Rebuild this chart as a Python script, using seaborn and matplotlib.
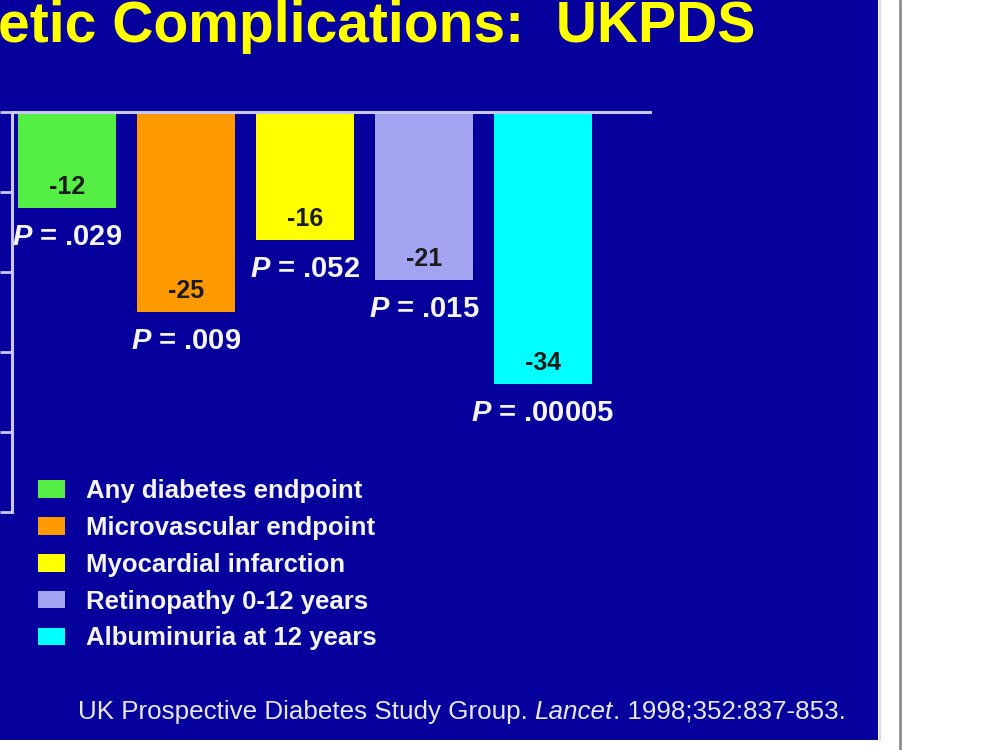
import matplotlib.pyplot as plt
import seaborn as sns
from matplotlib.patches import Rectangle, Patch
from matplotlib.lines import Line2D

# data
endpoints = ["Any diabetes endpoint", "Microvascular endpoint",
             "Myocardial infarction", "Retinopathy 0-12 years",
             "Albuminuria at 12 years"]
reduction = [-12, -25, -16, -21, -34]
p_values = [".029", ".009", ".052", ".015", ".00005"]
colors = ["#55ee44", "#ff9900", "#ffff00", "#a3a3f2", "#00ffff"]

title = "etic Complications:  UKPDS"
cite_a = "UK Prospective Diabetes Study Group."
cite_b = "Lancet"
cite_c = ". 1998;352:837-853."

bg = "#06009c"
lav = "#c8c8ff"

sns.set_theme(style="white")
plt.rcParams["font.family"] = ["Liberation Sans", "DejaVu Sans"]
plt.rcParams["mathtext.fontset"] = "custom"
plt.rcParams["mathtext.it"] = "Liberation Sans:italic:bold"
plt.rcParams["mathtext.rm"] = "Liberation Sans:bold"

W, H = 1005, 750
fig = plt.figure(figsize=(W / 100, H / 100), dpi=100, facecolor="white")

# slide background + window edge
fig.patches.append(Rectangle((0, 10 / H), 878 / W, 740 / H, transform=fig.transFigure,
                             facecolor=bg, edgecolor="none", zorder=-5))
fig.add_artist(Line2D([880 / W] * 2, [10 / H, 1], color="#d8d8ff", lw=1.5, zorder=-4))
fig.add_artist(Line2D([900 / W] * 2, [0, 1], color="#8c8c8c", lw=2, zorder=-4))

ax = fig.add_axes([12 / W, 1 - 512 / H, 638 / W, 400 / H])
ax.set_facecolor("none")

sns.barplot(x=endpoints, y=reduction, hue=endpoints, palette=colors,
            width=0.82, saturation=1, legend=False, linewidth=0,
            edgecolor="none", ax=ax)

ax.set_xlim(-0.462, 4.9)
ax.set_ylim(-50, 0)
for s in ["bottom", "right"]:
    ax.spines[s].set_visible(False)
for s in ["top", "left"]:
    ax.spines[s].set_color(lav)
    ax.spines[s].set_linewidth(2.2)
ax.set_xticks([])
ax.set_yticks(range(0, -51, -10))
ax.tick_params(axis="y", left=True, direction="out", length=9, width=2,
               color=lav, labelleft=False)
ax.set_xlabel("")
ax.set_ylabel("")

for i, (v, p) in enumerate(zip(reduction, p_values)):
    ax.annotate(f"{v}", (i, v), xytext=(0, 15), textcoords="offset points",
                ha="center", va="center", fontsize=18, fontweight="bold",
                color="#1b1b1b")
    ax.annotate(f"$P$ = {p}", (i, v), xytext=(0, -21), textcoords="offset points",
                ha="center", va="center", fontsize=21, fontweight="bold",
                color="#f4f4f4", annotation_clip=False)

fig.text(-0.002, 1 - 42 / H, title, color="#ffff00", fontsize=41,
         fontweight="bold", ha="left", va="baseline")

handles = [Patch(facecolor=c, edgecolor="none", label=l) for c, l in zip(colors, endpoints)]
fig.legend(handles=handles, loc="upper left", bbox_to_anchor=(38 / W, 1 - 479 / H),
           frameon=False, prop={"weight": "bold", "size": 18.5}, labelcolor="#f4f4f4",
           handlelength=1.07, handleheight=0.68, handletextpad=0.8,
           labelspacing=0.5, borderpad=0, borderaxespad=0)

t1 = fig.text(78 / W, 1 - 712 / H, cite_a, color="#e8e8f4", fontsize=18.7, va="center")
t2 = ax.annotate(cite_b, xy=(1, 0), xycoords=t1, xytext=(5, 0), textcoords="offset points",
                 va="bottom", ha="left", color="#e8e8f4", fontsize=18.7, style="italic",
                 annotation_clip=False)
ax.annotate(cite_c, xy=(1, 0), xycoords=t2, va="bottom", ha="left",
            color="#e8e8f4", fontsize=18.7, annotation_clip=False)

fig.savefig("out.png", dpi=100, facecolor="white")
